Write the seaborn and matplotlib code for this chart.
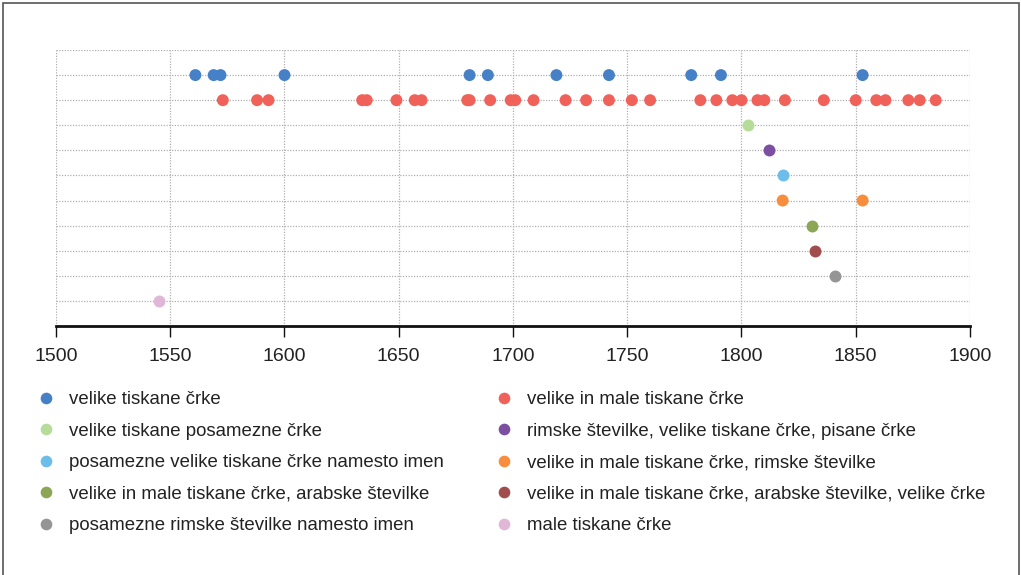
import numpy as np
import pandas as pd
import matplotlib
matplotlib.use("Agg")
import matplotlib.pyplot as plt
from matplotlib.lines import Line2D
from matplotlib.patches import Rectangle
import seaborn as sns

# Kategorije (vrstni red vrstic od zgoraj navzdol)
categories = [
    "velike tiskane črke",
    "velike in male tiskane črke",
    "velike tiskane posamezne črke",
    "rimske številke, velike tiskane črke, pisane črke",
    "posamezne velike tiskane črke namesto imen",
    "velike in male tiskane črke, rimske številke",
    "velike in male tiskane črke, arabske številke",
    "velike in male tiskane črke, arabske številke, velike črke",
    "posamezne rimske številke namesto imen",
    "male tiskane črke",
]

colors = [
    "#4680c6", "#f0615a", "#b6dc9a", "#7b4fa2", "#6cbdea",
    "#f78d3d", "#8ba756", "#a24d4d", "#959595", "#e0b7d7",
]

# Letnice za posamezno kategorijo
years_velike = [1561, 1569, 1572, 1600, 1681, 1689, 1719, 1742, 1778, 1791, 1853]
years_velike_male = [1573, 1588, 1593, 1634, 1636, 1649, 1657, 1660, 1680, 1681,
                     1690, 1699, 1701, 1709, 1723, 1732, 1742, 1752, 1760, 1782,
                     1789, 1796, 1800, 1807, 1810, 1819, 1836, 1850, 1859, 1863,
                     1873, 1878, 1885]
years_posamezne = [1803]
years_rimske_pisane = [1812]
years_posamezne_imena = [1818]
years_rimske = [1818, 1853]
years_arabske = [1831]
years_arabske_velike = [1832]
years_rimske_imena = [1841]
years_male = [1545]

series = [
    years_velike, years_velike_male, years_posamezne, years_rimske_pisane,
    years_posamezne_imena, years_rimske, years_arabske, years_arabske_velike,
    years_rimske_imena, years_male,
]

x_ticks = [1500, 1550, 1600, 1650, 1700, 1750, 1800, 1850, 1900]

df = pd.DataFrame(
    [(y, c) for c, ys in zip(categories, series) for y in ys],
    columns=["leto", "kategorija"],
)

sns.set_theme(style="white")
plt.rcParams["font.family"] = ["Liberation Sans", "DejaVu Sans"]

W, H = 1021, 575
fig = plt.figure(figsize=(W / 100, H / 100), dpi=100)
ax = fig.add_axes([56 / W, 1 - 326 / H, (970 - 56) / W, (326 - 50) / H])

sns.stripplot(
    data=df, x="leto", y="kategorija", hue="kategorija",
    order=categories, hue_order=categories, palette=colors,
    jitter=False, size=8.6, linewidth=0, orient="h",
    legend=False, ax=ax, zorder=3,
)

ax.set_xlim(1500, 1900)
ax.set_ylim(10, -1)
ax.set_xticks(x_ticks)
ax.set_xticklabels([str(t) for t in x_ticks])
ax.set_yticks(np.arange(-1, 11))
ax.set_yticklabels([])
ax.set_xlabel("")
ax.set_ylabel("")

ax.grid(True, which="major", axis="both", color="#b0b0b0",
        linestyle=(0, (1, 1.2)), linewidth=0.9, zorder=0)
for side in ["top", "left", "right"]:
    ax.spines[side].set_visible(False)
ax.spines["bottom"].set_color("#111111")
ax.spines["bottom"].set_linewidth(2.0)
ax.tick_params(axis="x", direction="out", length=8, width=1, color="#111111",
               pad=7.5, labelsize=14, labelcolor="#222222", bottom=True)
ax.tick_params(axis="y", length=0)

# Legenda v dveh stolpcih
handles = [Line2D([0], [0], marker="o", linestyle="", markersize=8.4,
                  markerfacecolor=c, markeredgewidth=0) for c in colors]
leg_kw = dict(frameon=False, fontsize=13.4, handlelength=1.0,
              handletextpad=0.72, labelspacing=0.78, borderpad=0,
              borderaxespad=0, loc="upper left", labelcolor="#222222")
fig.legend(handles[0::2], categories[0::2],
           bbox_to_anchor=(37 / W, 1 - 391 / H), **leg_kw)
fig.legend(handles[1::2], categories[1::2],
           bbox_to_anchor=(495 / W, 1 - 391 / H), **leg_kw)

# Okvir slike
fig.patches.append(Rectangle((3 / W, -0.05), (1016) / W, 1.05 - 3 / H,
                             transform=fig.transFigure, fill=False,
                             edgecolor="#555555", linewidth=1.2))

fig.savefig("out.png", dpi=100)
